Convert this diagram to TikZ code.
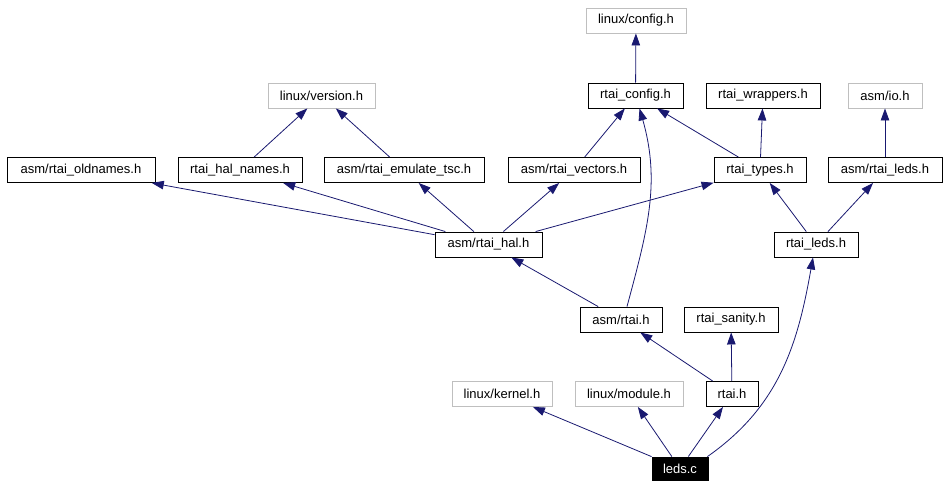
\documentclass[tikz,border=0pt]{standalone}
\usepackage{fontspec}
\setmainfont{Liberation Sans}
\usetikzlibrary{arrows.meta,positioning}
\definecolor{edgeblue}{HTML}{191970}
\definecolor{extgray}{HTML}{BFBFBF}

\begin{document}
\begin{tikzpicture}[
	x=1pt, y=-1pt,
	box/.style={draw, line width=0.9pt, inner sep=0pt, minimum height=25pt, font=\fontsize{13}{15}\selectfont},
	ext/.style={box, draw=extgray},
	edge/.style={draw=edgeblue, line width=0.8pt, -{Triangle[length=12pt,width=8.5pt]}}
	]
	\useasboundingbox (0,0) rectangle (947,488);
	% top rows
	\node[ext, minimum width=100pt] (lconfig) at (636,20.5) {linux/config.h};
	\node[ext, minimum width=107pt] (lversion) at (321.5,95.5) {linux/version.h};
	\node[box, minimum width=95pt] (rconfig) at (635.5,95.5) {rtai\_config.h};
	\node[box, minimum width=114pt] (wrappers) at (763,95.5) {rtai\_wrappers.h};
	\node[ext, minimum width=74pt] (io) at (885,95.5) {asm/io.h};
	\node[box, minimum width=148pt] (oldnames) at (81,170) {asm/rtai\_oldnames.h};
	\node[box, minimum width=124pt] (halnames) at (240,170) {rtai\_hal\_names.h};
	\node[box, minimum width=160pt] (emulate) at (404,170) {asm/rtai\_emulate\_tsc.h};
	\node[box, minimum width=132pt] (vectors) at (574,170) {asm/rtai\_vectors.h};
	\node[box, minimum width=92pt] (types) at (760,170) {rtai\_types.h};
	\node[box, minimum width=114pt] (aleds) at (885,170) {asm/rtai\_leds.h};
	% lower rows
	\node[box, minimum width=107pt] (hal) at (488.5,244.5) {asm/rtai\_hal.h};
	\node[box, minimum width=84pt] (rleds) at (816,244.5) {rtai\_leds.h};
	\node[box, minimum width=82pt] (artai) at (621,319.5) {asm/rtai.h};
	\node[box, minimum width=94pt] (sanity) at (731,319.5) {rtai\_sanity.h};
	\node[ext, minimum width=100pt] (kernel) at (502,394) {linux/kernel.h};
	\node[ext, minimum width=108pt] (module) at (629,394) {linux/module.h};
	\node[box, minimum width=52pt] (rtaih) at (732,394) {rtai.h};
	\node[box, fill=black, text=white, minimum width=56pt, minimum height=23pt] (ledsc) at (680,468.5) {leds.c};

	\draw[edge] (rconfig) -- (lconfig);
	\draw[edge] (halnames) -- (lversion);
	\draw[edge] (emulate) -- (lversion);
	\draw[edge] (vectors) -- (rconfig);
	\draw[edge] (types) -- (rconfig);
	\draw[edge] (types) -- (wrappers);
	\draw[edge] (aleds) -- (io);
	\draw[edge] (hal) -- (oldnames);
	\draw[edge] (hal) -- (halnames);
	\draw[edge] (hal) -- (emulate);
	\draw[edge] (hal) -- (vectors);
	\draw[edge] (hal) -- (types);
	\draw[edge] (rleds) -- (types);
	\draw[edge] (rleds) -- (aleds);
	\draw[edge] (artai) -- (hal);
	\draw[edge] ([xshift=6pt]artai.north) to[out=75,in=-74] ([xshift=4pt]rconfig.south);
	\draw[edge] (rtaih) -- (artai);
	\draw[edge] (rtaih) -- (sanity);
	\draw[edge] (ledsc) -- (kernel);
	\draw[edge] (ledsc) -- (module);
	\draw[edge] (ledsc) -- (rtaih);
	\draw[edge] ([xshift=-1pt]ledsc.north east) to[out=35,in=-100] ([xshift=-3pt]rleds.south);
\end{tikzpicture}
\end{document}
